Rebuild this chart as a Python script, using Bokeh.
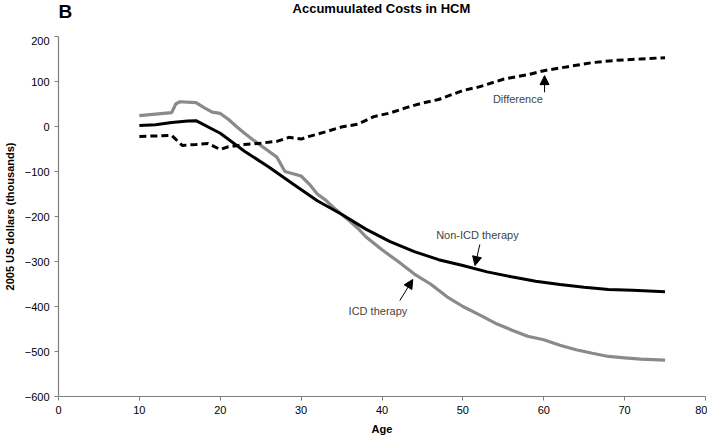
from bokeh.plotting import figure
from bokeh.layouts import column
from bokeh.models import Range1d, FixedTicker, Label, Arrow, NormalHead
from bokeh.core.properties import value
from bokeh.embed import file_html
from bokeh.resources import INLINE

# ---- data ----
non_icd_age = [10, 12, 14, 16, 17, 20, 23, 26, 29, 32, 35, 38, 41, 44, 47, 50,
               53, 56, 59, 62, 65, 68, 71, 75]
non_icd_cost = [2, 4, 9, 12, 13, -15, -55, -90, -128, -165, -195, -228, -256,
                -278, -296, -309, -323, -334, -344, -351, -357, -362, -364, -367]

icd_age = [10, 14, 14.5, 15, 17, 18, 19, 20, 21, 22, 23, 24, 25, 26, 27, 28, 29,
           30, 31, 32, 33, 34, 35, 36, 37, 38, 40, 42, 44, 46, 48, 50, 52, 54,
           56, 58, 60, 62, 64, 66, 68, 70, 72, 75]
icd_cost = [24, 31, 50, 55, 53, 42, 32, 29, 16, 0, -15, -29, -42, -55, -68, -100,
            -105, -110, -128, -150, -163, -180, -195, -210, -226, -245, -274,
            -300, -328, -350, -378, -400, -418, -437, -452, -466, -474, -486,
            -496, -504, -511, -514, -517, -519]

diff_age = [10, 14, 15.3, 17, 18.5, 20, 21, 23, 25, 27, 28.5, 30, 31, 33, 35, 37,
            39, 41, 43, 45, 47, 50, 52, 55, 58, 60, 63, 66, 69, 72, 75]
diff_cost = [-22, -20, -42, -40, -38, -51, -45, -40, -37, -33, -24, -28, -22, -12,
             -1, 5, 22, 30, 42, 52, 60, 80, 88, 105, 115, 124, 133, 142, 147, 150, 153]

x_ticks = [0, 10, 20, 30, 40, 50, 60, 70, 80]
y_ticks = [200, 100, 0, -100, -200, -300, -400, -500, -600]

title_text = "Accumuulated Costs in HCM"
panel_letter = "B"
x_label = "Age"
y_label = "2005 US dollars (thousands)"

FONT = "Liberation Sans"
W = 704

# ---- header with panel letter and title ----
head = figure(width=W, height=36, output_backend="svg", toolbar_location=None,
              x_range=Range1d(0, W), y_range=Range1d(0, 36),
              min_border=0, min_border_left=0, min_border_right=0,
              min_border_top=0, min_border_bottom=0)
head.axis.visible = False
head.grid.visible = False
head.outline_line_color = None
head.text(x=[0], y=[36], text=[panel_letter], text_font=value(FONT),
          text_font_size="19px", text_font_style="bold",
          text_align="left", text_baseline="top", text_color="black")
head.text(x=[353], y=[36], text=[title_text], text_font=value(FONT),
          text_font_size="13px", text_font_style="bold",
          text_align="center", text_baseline="top", text_color="black")

# ---- main plot ----
p = figure(frame_width=647, frame_height=360, output_backend="svg",
           toolbar_location=None,
           x_range=Range1d(0, 80), y_range=Range1d(-600, 200),
           min_border_left=55, min_border_right=2, min_border_top=0,
           min_border_bottom=20)
p.outline_line_color = None
p.grid.visible = False

for ax in (p.xaxis, p.yaxis):
    ax.axis_line_color = "#808080"
    ax.axis_line_width = 1.2
    ax.major_tick_line_color = "#808080"
    ax.major_tick_out = 4
    ax.major_tick_in = 0
    ax.minor_tick_line_color = None
    ax.major_label_text_font = FONT
    ax.major_label_text_font_size = "11px"
    ax.major_label_text_color = "black"
    ax.axis_label_text_font = FONT
    ax.axis_label_text_font_size = "11px"
    ax.axis_label_text_font_style = "bold"
    ax.axis_label_text_color = "black"

p.xaxis.ticker = FixedTicker(ticks=x_ticks)
p.yaxis.ticker = FixedTicker(ticks=y_ticks)
p.xaxis.axis_label = x_label
p.yaxis.axis_label = y_label
p.xaxis.major_label_standoff = 5
p.xaxis.axis_label_standoff = 6
p.yaxis.major_label_standoff = 5
p.yaxis.axis_label_standoff = 6

p.line(icd_age, icd_cost, line_color="#8a8a8a", line_width=3.2)
p.line(non_icd_age, non_icd_cost, line_color="black", line_width=3)
p.line(diff_age, diff_cost, line_color="black", line_width=3, line_dash="7 4")

# annotations
p.add_layout(Label(x=56.8, y=62, text="Difference", text_font=FONT,
                   text_font_size="11px", text_align="center",
                   text_baseline="middle"))
p.add_layout(Arrow(x_start=60.1, y_start=76, x_end=60.1, y_end=113,
                   line_width=1, line_color="black",
                   end=NormalHead(size=9, fill_color="black", line_color="black")))

p.add_layout(Label(x=51.8, y=-242, text="Non-ICD therapy", text_font=FONT,
                   text_font_size="11px", text_align="center",
                   text_baseline="middle"))
p.add_layout(Arrow(x_start=52.1, y_start=-262, x_end=51.5, y_end=-309,
                   line_width=1, line_color="black",
                   end=NormalHead(size=9, fill_color="black", line_color="black")))

p.add_layout(Label(x=39.5, y=-409, text="ICD therapy", text_font=FONT,
                   text_font_size="11px", text_align="center",
                   text_baseline="middle"))
p.add_layout(Arrow(x_start=42.2, y_start=-387, x_end=43.8, y_end=-340,
                   line_width=1, line_color="black",
                   end=NormalHead(size=9, fill_color="black", line_color="black")))

layout = column(head, p, spacing=0)
open("out.html", "w").write(file_html(layout, INLINE))
